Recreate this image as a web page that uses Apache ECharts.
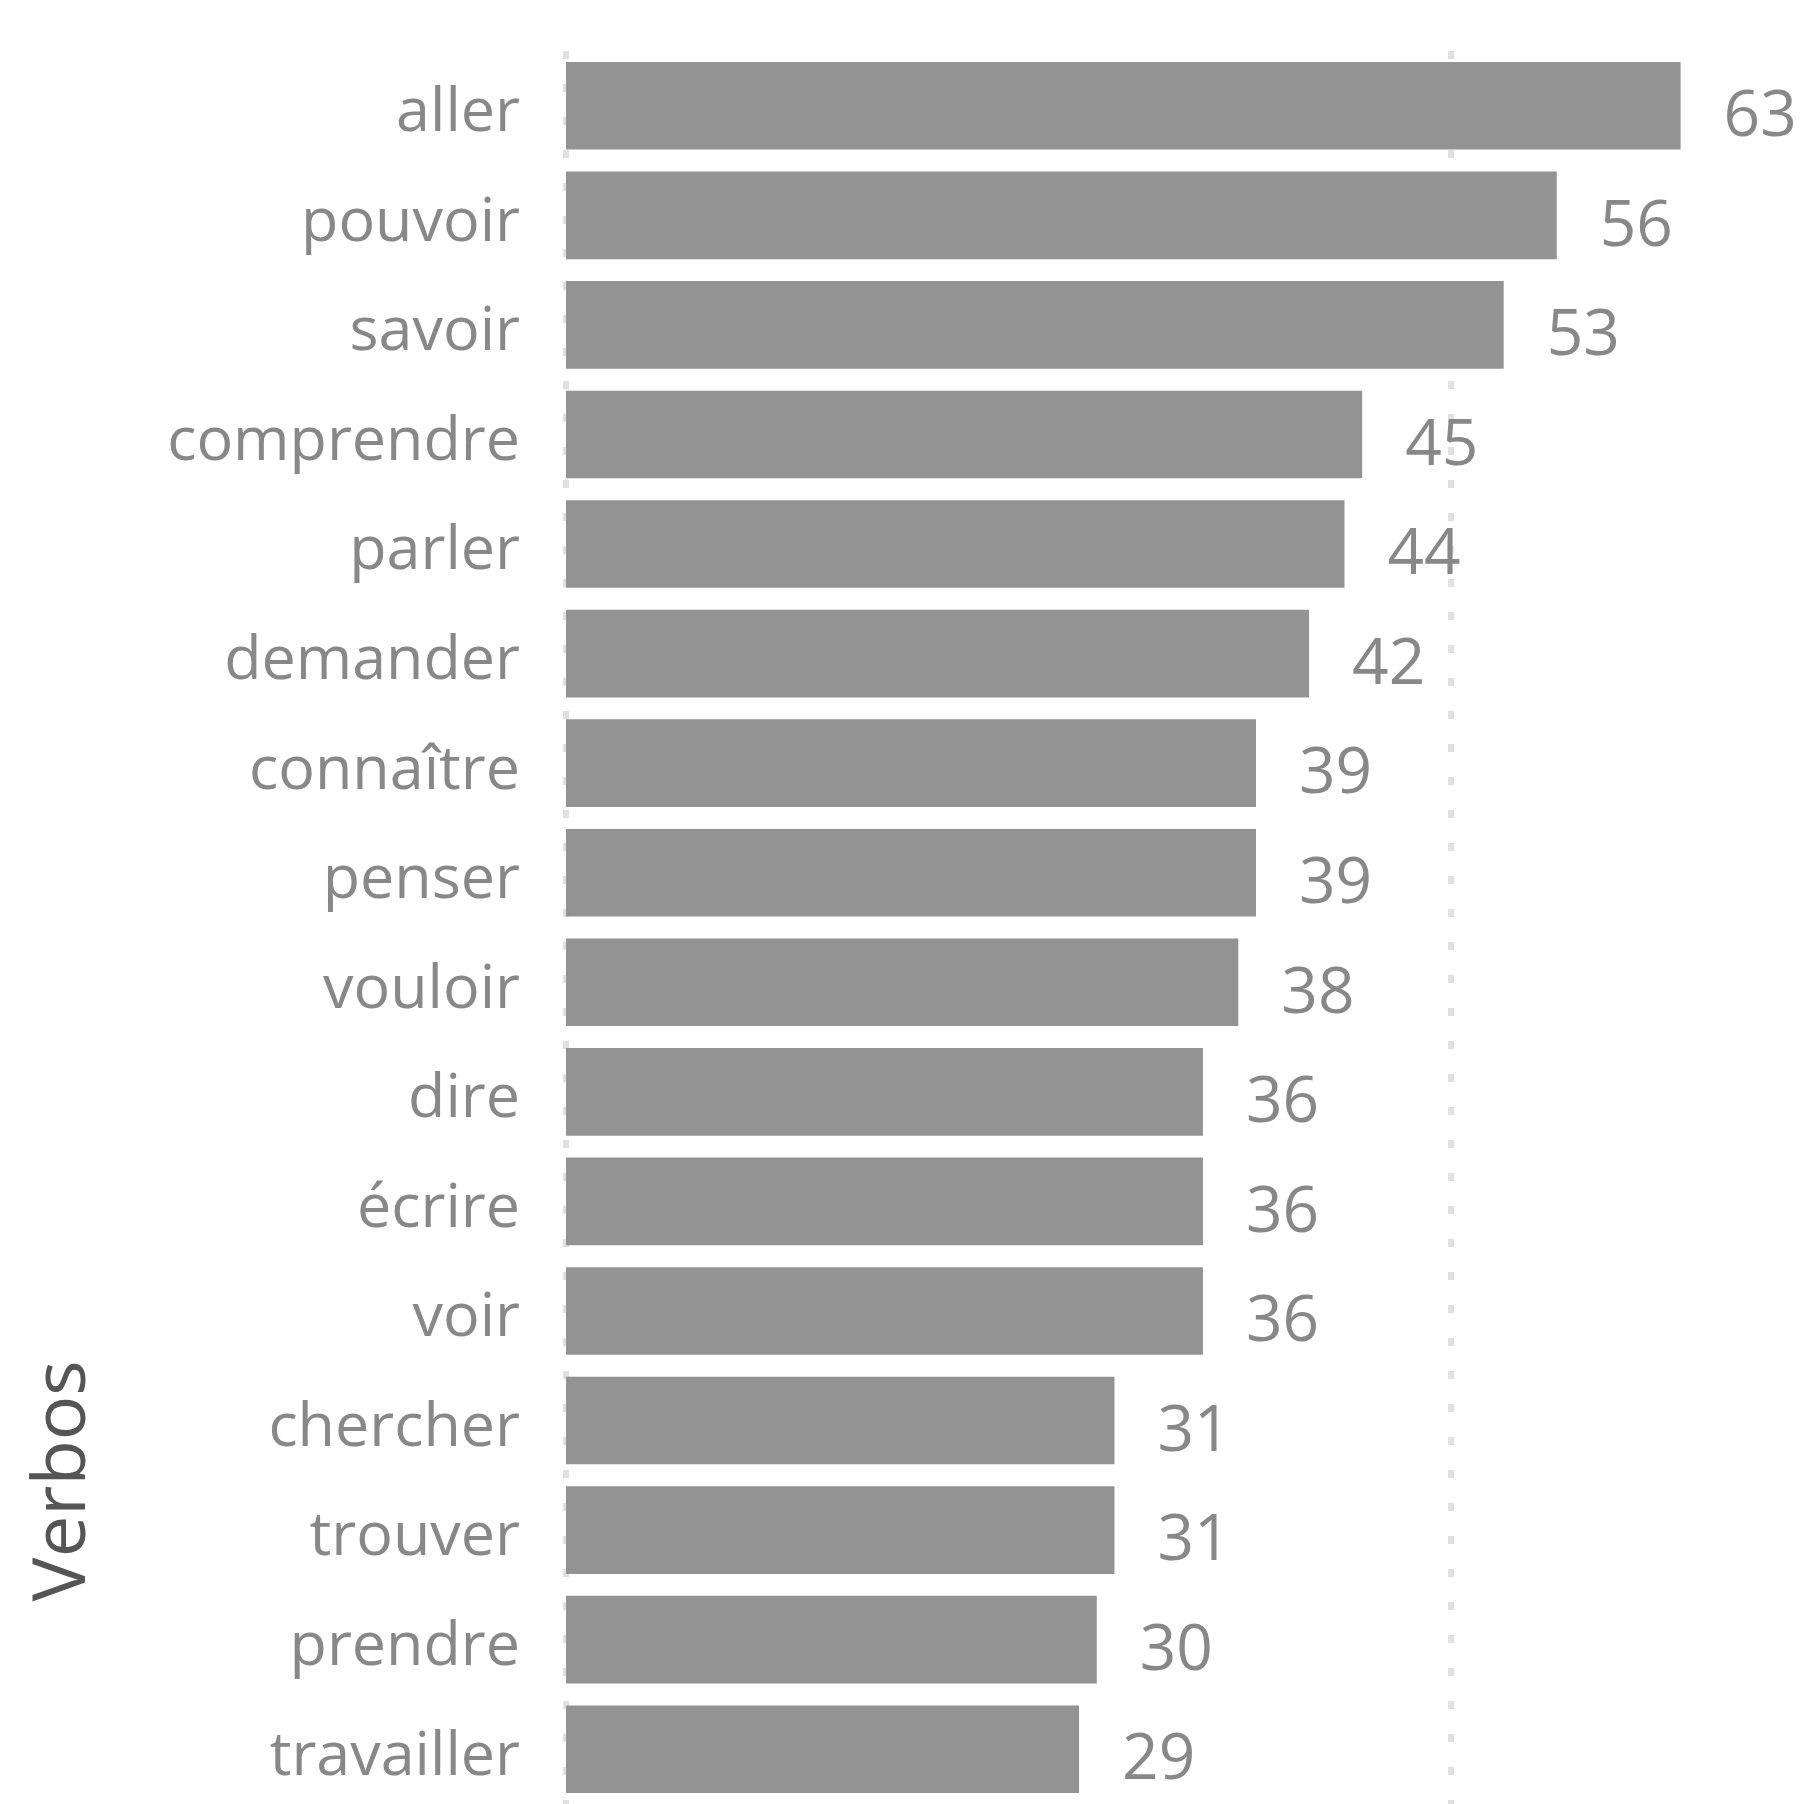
<!DOCTYPE html>
<html>
<head>
<meta charset="utf-8">
<style>
  html, body { margin: 0; padding: 0; background: #ffffff; }
  #chart { width: 1800px; height: 1804px; }
</style>
<script src="https://cdn.jsdelivr.net/npm/echarts@6/dist/echarts.min.js"></script>
</head>
<body>
<div id="chart"></div>
<script>
// Verbes les plus fréquents, par nombre d'occurrences
const verbs = [
  'aller', 'pouvoir', 'savoir', 'comprendre', 'parler', 'demander',
  'connaître', 'penser', 'vouloir', 'dire', 'écrire', 'voir',
  'chercher', 'trouver', 'prendre', 'travailler'
];
const counts = [63, 56, 53, 45, 44, 42, 39, 39, 38, 36, 36, 36, 31, 31, 30, 29];
const axisTitle = 'Verbos';

const labelGrey = '#888888';
const barGrey = '#939393';

const chart = echarts.init(document.getElementById('chart'), null, { renderer: 'canvas' });

chart.setOption({
  animation: false,
  backgroundColor: '#ffffff',
  grid: { left: 566, right: 84, top: 51, bottom: 0, containLabel: false },
  xAxis: {
    type: 'value',
    min: 0,
    max: 65,
    interval: 50,
    axisLine: { show: false },
    axisTick: { show: false },
    axisLabel: { show: false },
    splitLine: {
      show: true,
      showMaxLine: false,
      lineStyle: { color: '#e0e0e0', width: 6, type: [8, 25] }
    }
  },
  yAxis: {
    type: 'category',
    data: verbs,
    inverse: true,
    axisLine: { show: false },
    axisTick: { show: false },
    axisLabel: {
      margin: 46,
      formatter: '{v|{value}}',
      rich: {
        v: {
          color: labelGrey,
          fontFamily: 'Open Sans',
          fontSize: 61,
          padding: [16, 0, 0, 0]
        }
      }
    }
  },
  graphic: [{
    type: 'text',
    x: 64,
    y: 1481,
    rotation: Math.PI / 2,
    style: {
      text: axisTitle,
      fill: '#555555',
      font: '74px "Open Sans"',
      textAlign: 'center',
      textVerticalAlign: 'middle'
    }
  }],
  series: [{
    type: 'bar',
    data: counts,
    barCategoryGap: '20%',
    itemStyle: { color: barGrey },
    label: {
      show: true,
      position: 'right',
      distance: 43,
      offset: [0, 12],
      color: labelGrey,
      fontFamily: 'Open Sans',
      fontSize: 64
    }
  }]
});
</script>
</body>
</html>
